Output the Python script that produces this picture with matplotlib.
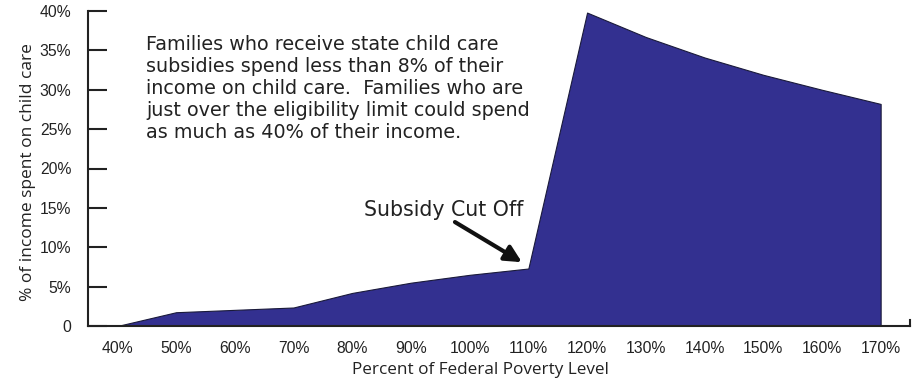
import matplotlib
matplotlib.use("Agg")
import matplotlib.pyplot as plt
from matplotlib.lines import Line2D

poverty_level = [40, 50, 60, 70, 80, 90, 100, 110, 120, 130, 140, 150, 160, 170]
pct_income = [0.0, 1.75, 2.05, 2.35, 4.2, 5.5, 6.5, 7.3, 39.8, 36.7, 34.1, 31.9, 30.0, 28.2]
x_tick_labels = [f"{v}%" for v in poverty_level]
y_ticks = [0, 5, 10, 15, 20, 25, 30, 35, 40]
y_tick_labels = ["0"] + [f"{v}%" for v in y_ticks[1:]]

fill_color = "#333090"
ink = "#222222"

fig = plt.figure(figsize=(9.19, 3.83), dpi=100)
W, H = 919, 383
ax = fig.add_axes([88 / W, 1 - 326 / H, (910 - 88) / W, (326 - 11) / H])

ax.fill_between(poverty_level, 0, pct_income, facecolor=fill_color,
                edgecolor="#1a1a3a", linewidth=0.8, zorder=2)

ax.set_xlim(35, 175)
ax.set_ylim(0, 40)

ax.set_xticks(poverty_level)
ax.set_xticklabels(x_tick_labels, fontfamily="Liberation Sans", fontsize=11.3, color=ink)
ax.set_yticks(y_ticks)
ax.set_yticklabels(y_tick_labels, fontfamily="Liberation Sans", fontsize=11.3, color=ink)
ax.tick_params(axis="x", length=0, pad=11)
ax.tick_params(axis="y", direction="in", length=14, width=1.5, color=ink, pad=12)

for s in ["top", "right"]:
    ax.spines[s].set_visible(False)
for s in ["left", "bottom"]:
    ax.spines[s].set_linewidth(1.5)
    ax.spines[s].set_color(ink)

# small end tick at right end of x axis
ax.add_line(Line2D([1, 1], [0, 0.018], transform=ax.transAxes, color=ink,
                   linewidth=1.5, clip_on=False))

ax.set_xlabel("Percent of Federal Poverty Level", fontfamily="Open Sans",
              fontsize=12.3, color=ink)
ax.xaxis.set_label_coords((480 - 88) / (910 - 88), -(370 - 326) / (326 - 11))
ax.xaxis.label.set_va("center")
ax.set_ylabel("% of income spent on child care", fontfamily="Open Sans",
              fontsize=12.5, color=ink)
ax.yaxis.set_label_coords(-(88 - 28) / (910 - 88), 0.49)
ax.yaxis.label.set_va("center")

note = ("Families who receive state child care\n"
        "subsidies spend less than 8% of their\n"
        "income on child care.  Families who are\n"
        "just over the eligibility limit could spend\n"
        "as much as 40% of their income.")
ax.text(44.9, 37.0, note, fontfamily="DejaVu Sans", fontsize=13.8,
        color=ink, va="top", ha="left", linespacing=1.21)

ax.text(95.6, 14.7, "Subsidy Cut Off", fontfamily="DejaVu Sans", fontsize=14.8,
        color=ink, ha="center", va="center")
ax.annotate("", xy=(108.9, 8.1), xytext=(97.5, 13.2),
            arrowprops=dict(arrowstyle="-|>,head_length=1.0,head_width=0.5",
                            color="#111111", linewidth=3,
                            shrinkA=0, shrinkB=0))

fig.savefig("out.png", dpi=100)
